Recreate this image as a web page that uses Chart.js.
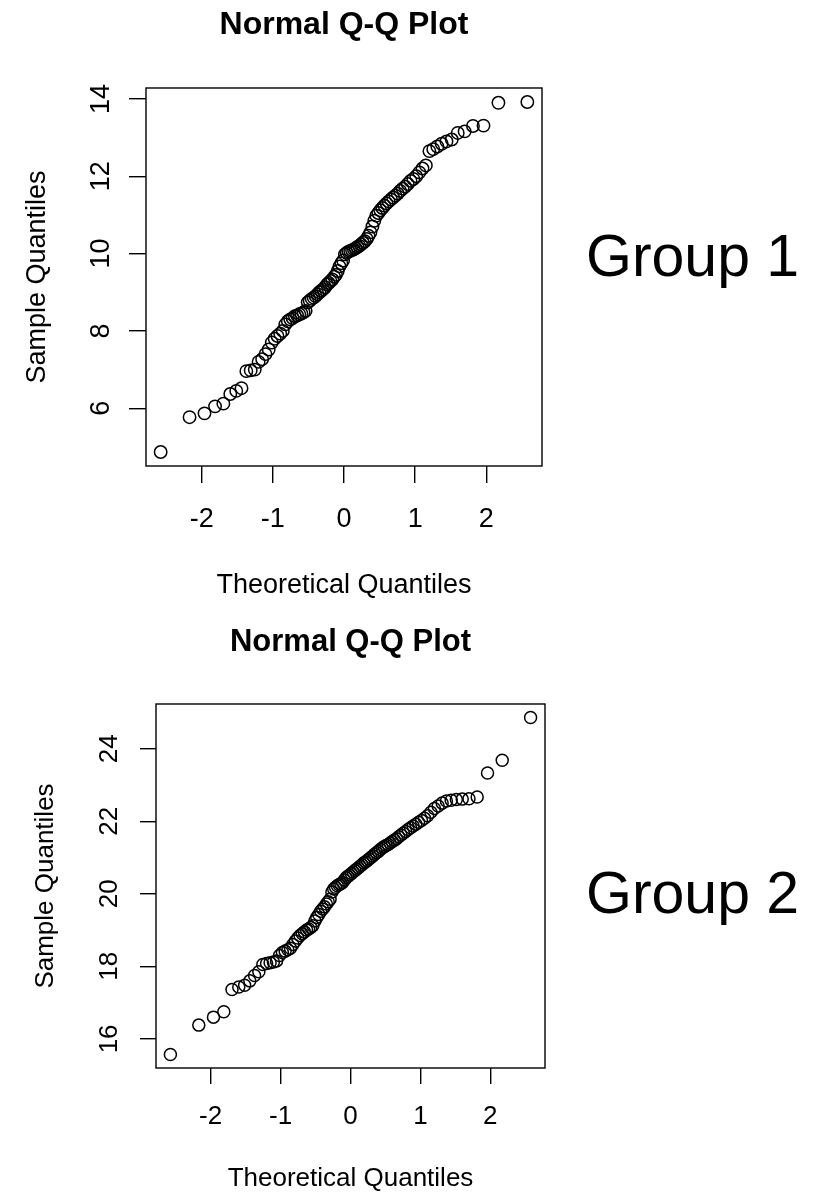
<!DOCTYPE html>
<html><head><meta charset="utf-8">
<script src="https://cdn.jsdelivr.net/npm/chart.js@4.4.1/dist/chart.umd.min.js"></script>
<style>
html,body{margin:0;padding:0;background:#fff;}
body{width:821px;height:1199px;position:relative;overflow:hidden;}
.wrap{position:absolute;left:0;width:821px;}
canvas{display:block;}
.grp{position:absolute;font-family:"Liberation Sans",Arial,Helvetica,sans-serif;font-size:59px;line-height:59px;color:#000;white-space:nowrap;}
</style></head><body>
<div class="wrap" style="top:0;height:600px"><canvas id="c1" width="821" height="600"></canvas></div>
<div class="wrap" style="top:600px;height:599px"><canvas id="c2" width="821" height="599"></canvas></div>
<div class="grp" style="left:586px;top:227px" id="g1"></div>
<div class="grp" style="left:586px;top:864px" id="g2"></div>
<script>
// ---- data ----
const theoreticalQuantiles = [
 -2.576,-2.170,-1.960,-1.812,-1.695,-1.598,-1.514,-1.440,-1.372,-1.311,
 -1.254,-1.200,-1.150,-1.103,-1.058,-1.015,-0.974,-0.935,-0.896,-0.860,
 -0.824,-0.789,-0.755,-0.722,-0.690,-0.659,-0.628,-0.598,-0.568,-0.539,
 -0.510,-0.482,-0.454,-0.426,-0.399,-0.372,-0.345,-0.319,-0.292,-0.266,
 -0.240,-0.215,-0.189,-0.164,-0.138,-0.113,-0.088,-0.063,-0.038,-0.013,
  0.013, 0.038, 0.063, 0.088, 0.113, 0.138, 0.164, 0.189, 0.215, 0.240,
  0.266, 0.292, 0.319, 0.345, 0.372, 0.399, 0.426, 0.454, 0.482, 0.510,
  0.539, 0.568, 0.598, 0.628, 0.659, 0.690, 0.722, 0.755, 0.789, 0.824,
  0.860, 0.896, 0.935, 0.974, 1.015, 1.058, 1.103, 1.150, 1.200, 1.254,
  1.311, 1.372, 1.440, 1.514, 1.598, 1.695, 1.812, 1.960, 2.170, 2.576
];
const group1Sample = [
  4.87, 5.77, 5.87, 6.05, 6.12, 6.37, 6.45, 6.52, 6.96, 6.98,
  7.00, 7.20, 7.27, 7.40, 7.52, 7.70, 7.80, 7.87, 7.93, 8.00,
  8.17, 8.25, 8.30, 8.33, 8.38, 8.40, 8.43, 8.45, 8.48, 8.52,
  8.74, 8.78, 8.83, 8.86, 8.90, 8.95, 9.00, 9.04, 9.08, 9.13,
  9.20, 9.24, 9.29, 9.33, 9.40, 9.45, 9.55, 9.67, 9.75, 9.82,
  9.98,10.02,10.05,10.07,10.09,10.11,10.14,10.17,10.20,10.24,
 10.28,10.32,10.38,10.46,10.55,10.70,10.85,10.98,11.05,11.12,
 11.18,11.24,11.30,11.35,11.40,11.45,11.50,11.55,11.62,11.68,
 11.73,11.80,11.88,11.93,12.00,12.10,12.20,12.28,12.65,12.70,
 12.77,12.84,12.90,12.95,13.12,13.16,13.30,13.31,13.90,13.92
];
const group2Sample = [
 15.57,16.38,16.60,16.75,17.36,17.43,17.48,17.60,17.75,17.85,
 18.05,18.08,18.10,18.12,18.15,18.30,18.38,18.42,18.46,18.50,
 18.60,18.70,18.78,18.85,18.90,18.95,19.00,19.03,19.07,19.12,
 19.25,19.35,19.43,19.52,19.58,19.64,19.72,19.78,19.85,20.05,
 20.13,20.18,20.22,20.25,20.28,20.31,20.38,20.44,20.48,20.52,
 20.56,20.60,20.64,20.68,20.72,20.76,20.80,20.85,20.88,20.92,
 20.96,21.00,21.04,21.09,21.13,21.17,21.22,21.26,21.30,21.33,
 21.36,21.40,21.44,21.48,21.52,21.57,21.62,21.67,21.72,21.77,
 21.82,21.87,21.92,21.97,22.02,22.08,22.15,22.25,22.35,22.42,
 22.50,22.56,22.58,22.60,22.61,22.62,22.67,23.33,23.68,24.86
];
const xTickValues = [-2, -1, 0, 1, 2];
const yTickValues1 = [6, 8, 10, 12, 14];
const yTickValues2 = [16, 18, 20, 22, 24];
const xLimits = [-2.782, 2.782];
const yLimits1 = [4.508, 14.282];
const yLimits2 = [15.198, 25.232];
const mainTitle = 'Normal Q-Q Plot';
const xAxisTitle = 'Theoretical Quantiles';
const yAxisTitle = 'Sample Quantiles';
const groupNames = ['Group 1', 'Group 2'];

document.getElementById('g1').textContent = groupNames[0];
document.getElementById('g2').textContent = groupNames[1];

const FONT = '"Liberation Sans", Arial, Helvetica, sans-serif';

function makeQQ(canvasId, sample, yTicks, yLim, L) {
  const pts = theoreticalQuantiles.map((q, i) => ({ x: q, y: sample[i] }));
  const W = 821, H = L.H;
  const decor = {
    id: 'qqDecor',
    afterDraw(chart) {
      const ctx = chart.ctx, a = chart.chartArea;
      const xs = chart.scales.x, ys = chart.scales.y;
      ctx.save();
      ctx.strokeStyle = '#000';
      ctx.lineWidth = L.lw;
      ctx.strokeRect(a.left, a.top, a.right - a.left, a.bottom - a.top);
      ctx.fillStyle = '#000';
      ctx.font = L.fs + 'px ' + FONT;
      ctx.textAlign = 'center';
      ctx.textBaseline = 'alphabetic';
      xs.ticks.forEach((t, i) => {
        ctx.fillText(String(t.value), xs.getPixelForTick(i), a.bottom + L.xTickBase);
      });
      ctx.fillText(xAxisTitle, (a.left + a.right) / 2, a.bottom + L.xTitleBase);
      ys.ticks.forEach((t, i) => {
        ctx.save();
        ctx.translate(a.left - L.yTickBase, ys.getPixelForTick(i));
        ctx.rotate(-Math.PI / 2);
        ctx.fillText(String(t.value), 0, 0);
        ctx.restore();
      });
      ctx.save();
      ctx.translate(a.left - L.yTitleBase, (a.top + a.bottom) / 2);
      ctx.rotate(-Math.PI / 2);
      ctx.fillText(yAxisTitle, 0, 0);
      ctx.restore();
      ctx.font = 'bold ' + L.tfs + 'px ' + FONT;
      ctx.fillText(mainTitle, (a.left + a.right) / 2, a.top - L.titleBase);
      ctx.restore();
    }
  };
  return new Chart(document.getElementById(canvasId), {
    type: 'scatter',
    data: { datasets: [{
      data: pts,
      pointStyle: 'circle',
      pointRadius: L.pr,
      pointBorderWidth: L.pbw,
      pointBackgroundColor: 'rgba(0,0,0,0)',
      pointBorderColor: '#000',
      showLine: false
    }]},
    options: {
      responsive: false,
      animation: false,
      events: [],
      layout: { padding: { left: 0, top: L.top, right: W - L.right, bottom: 0 } },
      plugins: { legend: { display: false }, tooltip: { enabled: false }, title: { display: false } },
      scales: {
        x: {
          type: 'linear', position: 'bottom',
          min: xLimits[0], max: xLimits[1],
          afterBuildTicks: s => { s.ticks = xTickValues.map(v => ({ value: v })); },
          afterFit: s => { s.height = H - L.bottom; },
          ticks: { display: false },
          border: { display: false },
          grid: { display: true, drawOnChartArea: false, drawTicks: true, tickLength: L.tl, color: '#000', lineWidth: L.lw }
        },
        y: {
          type: 'linear', position: 'left',
          min: yLim[0], max: yLim[1],
          afterBuildTicks: s => { s.ticks = yTicks.map(v => ({ value: v })); },
          afterFit: s => { s.width = L.left; },
          ticks: { display: false },
          border: { display: false },
          grid: { display: true, drawOnChartArea: false, drawTicks: true, tickLength: L.tl, color: '#000', lineWidth: L.lw }
        }
      }
    },
    plugins: [decor]
  });
}

makeQQ('c1', group1Sample, yTickValues1, yLimits1, {
  H: 600, left: 146, top: 88, right: 542, bottom: 466,
  lw: 1.4, tl: 17, fs: 27, tfs: 32, pr: 6.2, pbw: 1.5,
  xTickBase: 61, xTitleBase: 127, yTickBase: 37, yTitleBase: 101, titleBase: 54
});
makeQQ('c2', group2Sample, yTickValues2, yLimits2, {
  H: 599, left: 156, top: 104, right: 545, bottom: 468,
  lw: 1.4, tl: 16, fs: 26, tfs: 31, pr: 6.0, pbw: 1.5,
  xTickBase: 56, xTitleBase: 118, yTickBase: 39, yTitleBase: 103, titleBase: 53
});
</script>
</body></html>
